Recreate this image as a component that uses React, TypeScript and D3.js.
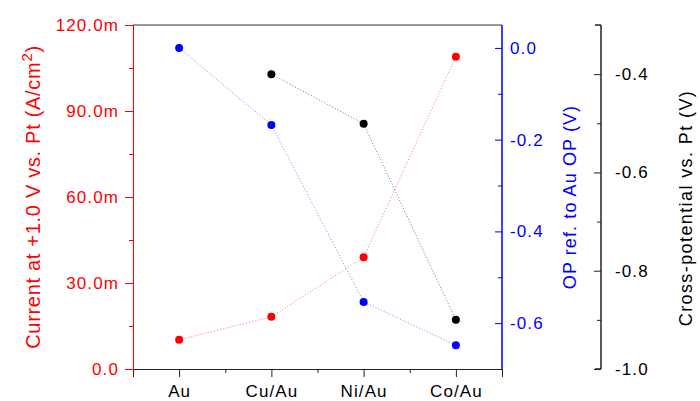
import React, { useEffect, useRef } from "react";
import * as d3 from "d3";

// categories along the bottom
const categories = ["Au", "Cu/Au", "Ni/Au", "Co/Au"];

// current at +1.0 V vs Pt (A/cm^2, shown in milli)
const currentValues = [10.2, 18.2, 39.0, 108.9];
// onset potential relative to Au (V)
const opValues = [0.0, -0.168, -0.554, -0.648];
// cross-potential vs Pt (V), no value for Au
const crossValues: (number | null)[] = [null, -0.4, -0.501, -0.9];

const currentTicks = [0, 30, 60, 90, 120];
const opTicks = [0, -0.2, -0.4, -0.6];
const crossTicks = [-0.4, -0.6, -0.8, -1.0];

const W = 700;
const H = 401;

// plain hyphen for negatives, like the original plot
const fmt1 = (d: d3.NumberValue) => (+d).toFixed(1);

export default function App() {
  const ref = useRef<SVGSVGElement>(null);

  useEffect(() => {
    const svg = d3.select(ref.current);
    svg.selectAll("*").remove();

    const left = 133, right = 502, top = 25, bottom = 369;
    const font = "Liberation Sans, Arial, sans-serif";

    const x = d3.scaleLinear().domain([0.5, 4.5]).range([left, right]);
    const yCur = d3.scaleLinear().domain([0, 120]).range([bottom, top]);
    const yOp = d3.scaleLinear().domain([-0.7, 0.05]).range([bottom, top]);
    const yCross = d3.scaleLinear().domain([-1.0, -0.3]).range([bottom, top]);

    // top frame line
    svg.append("line")
      .attr("x1", left).attr("x2", right)
      .attr("y1", top).attr("y2", top)
      .attr("stroke", "#333").attr("stroke-width", 1);

    // bottom axis - minor ticks first then labelled ones
    const gx = svg.append("g").attr("transform", "translate(0," + bottom + ")");
    gx.call(d3.axisBottom(x).tickValues([0.5, 1.5, 2.5, 3.5, 4.5]).tickSize(4).tickFormat(() => ""));
    gx.append("g").call(
      d3.axisBottom(x).tickValues([1, 2, 3, 4]).tickSize(8)
        .tickFormat((d) => categories[+d - 1])
    );
    gx.selectAll("path.domain").attr("stroke", "#222");
    gx.selectAll("line").attr("stroke", "#222");
    gx.selectAll("text").attr("font-family", font).attr("font-size", 17)
      .attr("letter-spacing", 1.1).attr("fill", "#000").attr("y", 28).attr("dy", 0);

    // left axis (red)
    const gl = svg.append("g").attr("transform", "translate(" + left + ",0)");
    gl.call(d3.axisLeft(yCur).tickValues([15, 45, 75, 105]).tickSize(4).tickFormat(() => ""));
    gl.append("g").call(
      d3.axisLeft(yCur).tickValues(currentTicks).tickSize(8)
        .tickFormat((d) => (+d === 0 ? "0.0" : fmt1(d) + "m"))
    );
    gl.selectAll("path.domain").attr("stroke", "red");
    gl.selectAll("line").attr("stroke", "red");
    gl.selectAll("text").attr("font-family", font).attr("font-size", 17)
      .attr("letter-spacing", 1.1).attr("fill", "red").attr("x", -14);

    // right axis (blue) - ticks point into the plot
    const gb = svg.append("g").attr("transform", "translate(" + right + ",0)");
    gb.call(d3.axisRight(yOp).tickValues([-0.1, -0.3, -0.5]).tickSize(-4).tickFormat(() => ""));
    gb.append("g").call(
      d3.axisRight(yOp).tickValues(opTicks).tickSize(-7).tickPadding(0).tickFormat(fmt1)
    );
    gb.selectAll("path.domain").attr("stroke", "blue").attr("d", "M0," + top + "V" + bottom);
    gb.selectAll("line").attr("stroke", "blue");
    gb.selectAll("text").attr("font-family", font).attr("font-size", 17)
      .attr("letter-spacing", 1.1).attr("fill", "blue").attr("x", 8);

    // third axis (black), offset right
    const gc = svg.append("g").attr("transform", "translate(601,0)");
    gc.call(d3.axisRight(yCross).tickValues([-0.5, -0.7, -0.9]).tickSize(-4).tickFormat(() => ""));
    gc.append("g").call(
      d3.axisRight(yCross).tickValues(crossTicks).tickSize(-7).tickFormat(fmt1)
    );
    gc.selectAll("path.domain").attr("stroke", "#222").attr("d", "M-6," + top + "H0V" + bottom + "H-6");
    gc.selectAll("line").attr("stroke", "#222");
    gc.selectAll("text").attr("font-family", font).attr("font-size", 17)
      .attr("letter-spacing", 1.1).attr("fill", "#000").attr("x", 14);

    // axis titles
    const tl = svg.append("text")
      .attr("transform", "translate(40,197) rotate(-90)")
      .attr("text-anchor", "middle")
      .attr("font-family", font).attr("font-size", 20)
      .attr("letter-spacing", 0.7).attr("fill", "red");
    tl.append("tspan").text("Current at +1.0 V vs. Pt (A/cm");
    tl.append("tspan").attr("dy", -8).attr("font-size", 15).text("2");
    tl.append("tspan").attr("dy", 8).text(")");

    svg.append("text")
      .attr("transform", "translate(576,197) rotate(-90)")
      .attr("text-anchor", "middle")
      .attr("font-family", font).attr("font-size", 18)
      .attr("letter-spacing", 1.1).attr("fill", "blue")
      .text("OP ref. to Au OP (V)");

    svg.append("text")
      .attr("transform", "translate(692,208) rotate(-90)")
      .attr("text-anchor", "middle")
      .attr("font-family", font).attr("font-size", 18)
      .attr("letter-spacing", 1.4).attr("fill", "#000")
      .text("Cross-potential vs. Pt (V)");

    // series
    const series = [
      { vals: currentValues as (number | null)[], y: yCur, color: "red", line: "rgba(255,0,0,0.55)" },
      { vals: opValues as (number | null)[], y: yOp, color: "blue", line: "rgba(0,0,255,0.5)" },
      { vals: crossValues, y: yCross, color: "black", line: "rgba(0,0,0,0.55)" },
    ];

    series.forEach((s) => {
      const pts = s.vals
        .map((v, i) => ({ i: i + 1, v }))
        .filter((p) => p.v !== null) as { i: number; v: number }[];
      svg.append("path")
        .datum(pts)
        .attr("fill", "none")
        .attr("stroke", s.line)
        .attr("stroke-width", 1)
        .attr("stroke-dasharray", "1,2")
        .attr("d", d3.line<{ i: number; v: number }>()
          .x((d) => x(d.i))
          .y((d) => s.y(d.v)));
      svg.append("g").selectAll("circle")
        .data(pts)
        .join("circle")
        .attr("cx", (d) => x(d.i))
        .attr("cy", (d) => s.y(d.v))
        .attr("r", 4)
        .attr("fill", s.color);
    });
  }, []);

  return (
    <svg ref={ref} width={W} height={H} style={{ position: "absolute", left: 0, top: 0, background: "#fff" }} />
  );
}
